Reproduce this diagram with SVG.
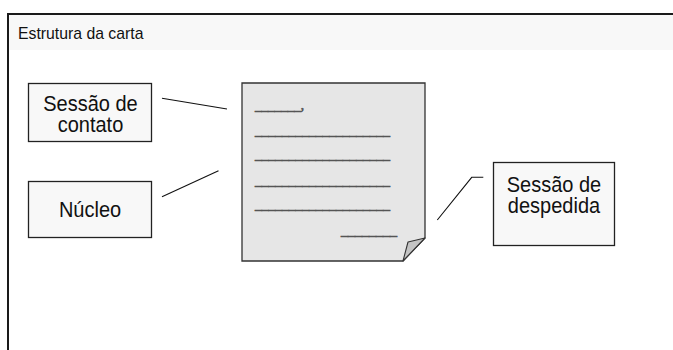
<svg xmlns="http://www.w3.org/2000/svg" width="673" height="350" viewBox="0 0 673 350">
  <style>
    .box { fill: #f8f8f8; stroke: #222; stroke-width: 1.3; }
    .lbl { font-family: "Liberation Sans", Arial, sans-serif; font-size: 20px; fill: #111; text-anchor: middle; }
    .conn { stroke: #111; stroke-width: 1.1; fill: none; }
    .us { font-family: "Liberation Serif", "Times New Roman", serif; font-size: 14px; fill: #555; stroke: #555; stroke-width: 0.7; }
  </style>
  <rect x="0" y="0" width="673" height="350" fill="#ffffff"/>
  <g id="frame">
    <rect x="9" y="15" width="664" height="35" fill="#f8f8f8"/>
    <path d="M8 350 V14 H673" fill="none" stroke="#1a1a1a" stroke-width="2"/>
    <text transform="translate(18,39.3) scale(1,1.1)" font-family="Liberation Sans, Arial, sans-serif" font-size="15.8" fill="#111">Estrutura da carta</text>
  </g>
  <g id="carta">
    <path d="M242 83 H425 V238 L403 261 H242 Z" fill="#e6e6e6" stroke="#333" stroke-width="1.3"/>
    <path d="M425 238 L408 242 L403 261 Z" fill="#c4c4c4" stroke="#333" stroke-width="1.1" stroke-linejoin="round"/>
    <text class="us" x="255" y="110.3" textLength="49" lengthAdjust="spacingAndGlyphs">_______,</text>
    <text class="us" x="255" y="134.8" textLength="135" lengthAdjust="spacingAndGlyphs">____________________</text>
    <text class="us" x="255" y="159.3" textLength="135" lengthAdjust="spacingAndGlyphs">____________________</text>
    <text class="us" x="255" y="184.6" textLength="135" lengthAdjust="spacingAndGlyphs">____________________</text>
    <text class="us" x="255" y="209.3" textLength="135" lengthAdjust="spacingAndGlyphs">____________________</text>
    <text class="us" x="341" y="234.8" textLength="56" lengthAdjust="spacingAndGlyphs">________</text>
  </g>
  <g id="contato">
    <rect class="box" x="28.5" y="83.5" width="123" height="58"/>
    <text class="lbl" transform="translate(90.5,111.3) scale(1,1.1)">Sessão de</text>
    <text class="lbl" transform="translate(90.5,131.5) scale(1,1.1)">contato</text>
  </g>
  <g id="nucleo">
    <rect class="box" x="28.5" y="181.5" width="123" height="56"/>
    <text class="lbl" transform="translate(90,217) scale(1,1.1)">Núcleo</text>
  </g>
  <g id="despedida">
    <rect class="box" x="493.5" y="162.5" width="121" height="83"/>
    <text class="lbl" transform="translate(554,191.7) scale(1,1.1)">Sessão de</text>
    <text class="lbl" transform="translate(554,213.3) scale(1,1.1)">despedida</text>
  </g>
  <g id="connectors">
    <line class="conn" x1="162" y1="98.3" x2="227" y2="109"/>
    <line class="conn" x1="162" y1="196.7" x2="218.5" y2="170.7"/>
    <polyline class="conn" points="437.3,220 471.7,177.3 483.3,177.3"/>
  </g>
</svg>
